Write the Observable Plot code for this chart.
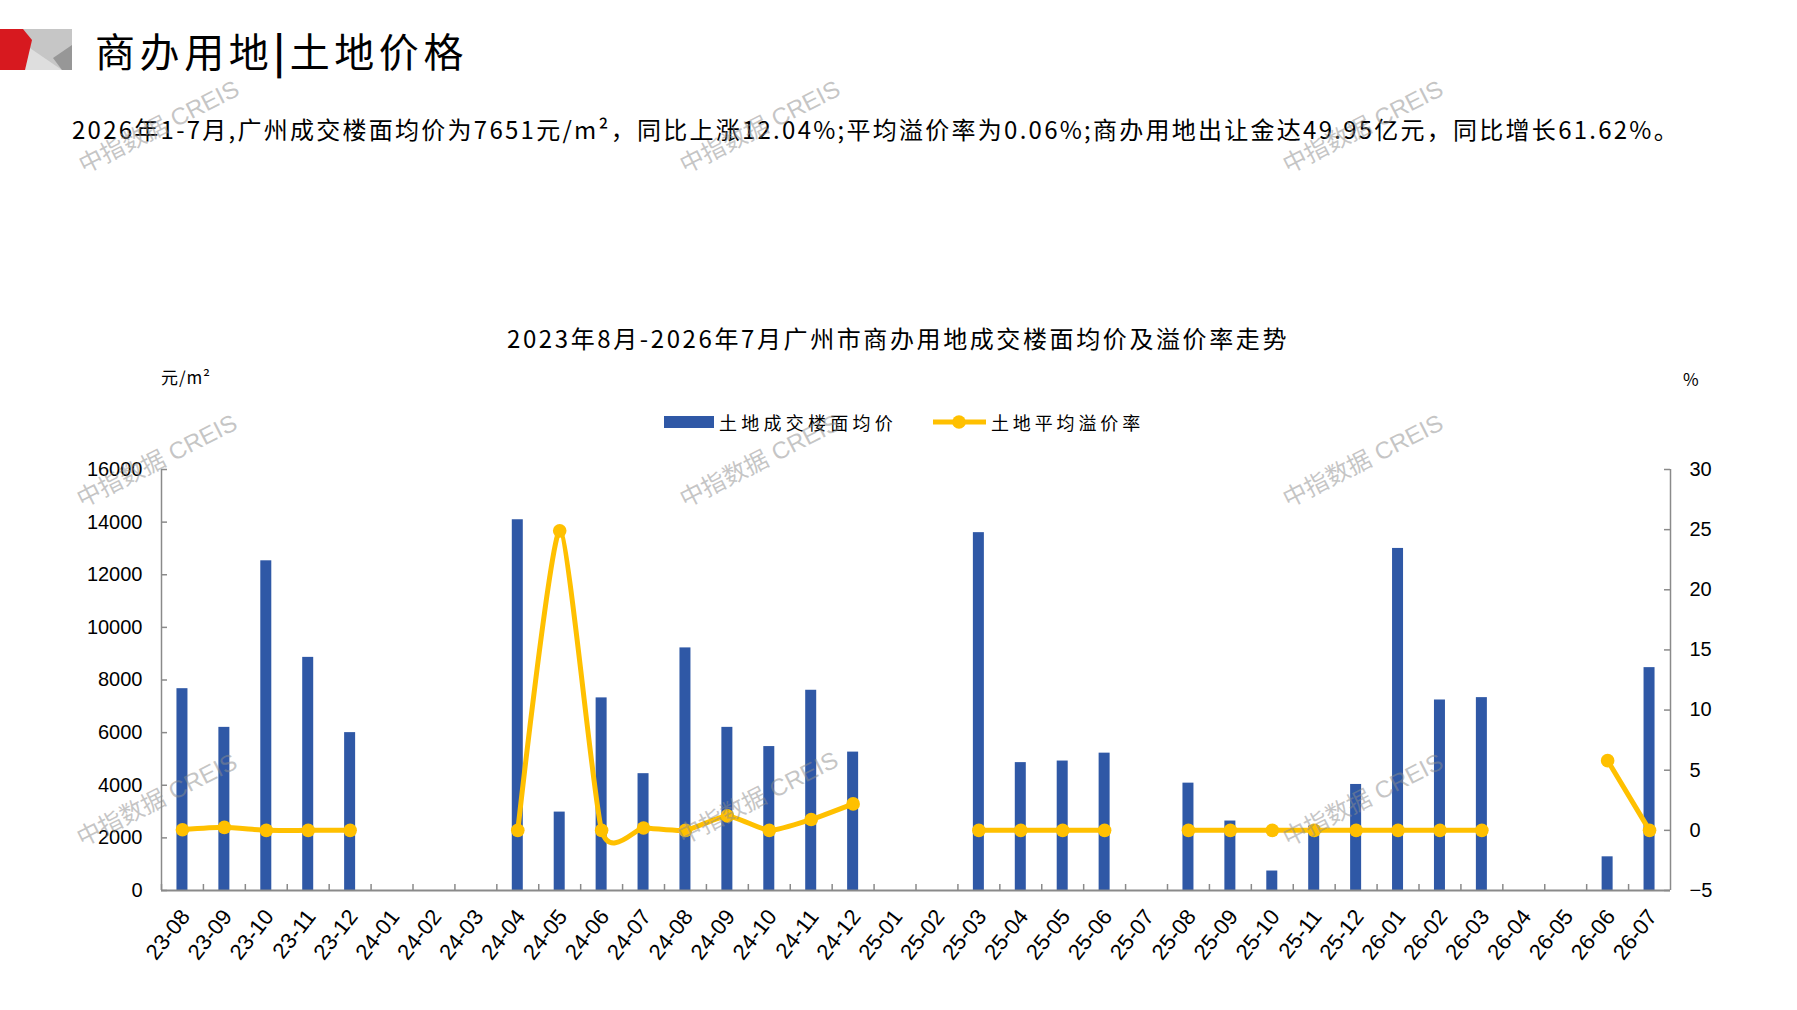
<!DOCTYPE html>
<html>
<head>
<meta charset="utf-8">
<script src="https://cdn.jsdelivr.net/npm/d3@7"></script>
<script src="https://cdn.jsdelivr.net/npm/@observablehq/plot@0.6"></script>
<style>
html,body{margin:0;padding:0;background:#fff;}
#page{position:relative;width:1797px;height:1010px;overflow:hidden;background:#fff;font-family:"Noto Sans CJK SC","Noto Sans",sans-serif;color:#000;}
.abs{position:absolute;white-space:nowrap;line-height:1;}
.wm{position:absolute;white-space:nowrap;line-height:1;font-family:"Liberation Sans","Noto Sans CJK SC",sans-serif;font-size:24px;color:rgba(140,140,140,0.5);transform:translate(-50%,-50%) rotate(-27deg);pointer-events:none;z-index:10;}
.plotbox{position:absolute;left:0;top:440px;}
</style>
</head>
<body>
<div id="page">
  <svg class="abs" style="left:0;top:0" width="80" height="80">
    <rect x="22" y="29" width="50" height="41" fill="#c6c6c6"/>
    <polygon points="24,44 62,70 24,70" fill="#dedede"/>
    <polygon points="53,58 72,45 72,70 62,70" fill="#979797"/>
    <polygon points="0,29 23,29 32,40 25,70 0,70" fill="#d7191f"/>
  </svg>
  <div id="title" class="abs fit" data-w="373" style="left:95px;top:30px;font-size:40px;">商办用地<span style="font-weight:700">|</span>土地价格</div>
  <div id="sub" class="abs fit" data-w="1608" style="left:72px;top:117px;font-size:24px;">2026年1-7月,广州成交楼面均价为7651元/m²，同比上涨12.04%;平均溢价率为0.06%;商办用地出让金达49.95亿元，同比增长61.62%。</div>
  <div id="ctitle" class="abs fit" data-w="782" style="left:507px;top:326px;font-size:24px;">2023年8月-2026年7月广州市商办用地成交楼面均价及溢价率走势</div>
  <div id="unitL" class="abs fit" data-w="50" style="left:161px;top:368px;font-size:17px;">元/m²</div>
  <div id="unitR" class="abs" style="left:1683px;top:370px;font-size:17px;">%</div>
  <div class="abs" style="left:664px;top:416px;width:50px;height:12px;background:#2F58A6;"></div>
  <div id="leg1" class="abs fit" data-w="178" style="left:719px;top:413px;font-size:18px;">土地成交楼面均价</div>
  <svg class="abs" style="left:930px;top:412px" width="60" height="20">
    <line x1="3" y1="10" x2="56" y2="10" stroke="#FFC000" stroke-width="5"/>
    <circle cx="29" cy="10" r="6.8" fill="#FFC000"/>
  </svg>
  <div id="leg2" class="abs fit" data-w="153" style="left:991px;top:413px;font-size:18px;">土地平均溢价率</div>
  <div id="p1" class="plotbox"></div>
  <div id="p2" class="plotbox"></div>
  <div class="wm" style="left:159px;top:127px;">中指数据 CREIS</div>
  <div class="wm" style="left:760px;top:127px;">中指数据 CREIS</div>
  <div class="wm" style="left:1363px;top:127px;">中指数据 CREIS</div>
  <div class="wm" style="left:157px;top:461px;">中指数据 CREIS</div>
  <div class="wm" style="left:760px;top:461px;">中指数据 CREIS</div>
  <div class="wm" style="left:1363px;top:461px;">中指数据 CREIS</div>
  <div class="wm" style="left:157px;top:800px;">中指数据 CREIS</div>
  <div class="wm" style="left:758px;top:798px;">中指数据 CREIS</div>
  <div class="wm" style="left:1363px;top:800px;">中指数据 CREIS</div>
</div>
<script>
// ---- data ----
const months = ["23-08","23-09","23-10","23-11","23-12","24-01","24-02","24-03","24-04","24-05","24-06","24-07","24-08","24-09","24-10","24-11","24-12","25-01","25-02","25-03","25-04","25-05","25-06","25-07","25-08","25-09","25-10","25-11","25-12","26-01","26-02","26-03","26-04","26-05","26-06","26-07"];
const price = [7670,6200,12530,8860,6000,null,null,null,14090,2980,7320,4440,9220,6200,5470,7610,5260,null,null,13600,4860,4920,5220,null,4080,2640,740,2450,4030,13000,7240,7330,null,null,1280,8470];
const rate = [0.05,0.25,0,0,0,null,null,null,0,24.9,0,0.2,0,1.2,0,0.9,2.2,null,null,0,0,0,0,null,0,0,0,0,0,0,0,0,null,null,5.8,0];
const leftTicks = [0,2000,4000,6000,8000,10000,12000,14000,16000];
const rightTicks = [-5,0,5,10,15,20,25,30];
const seriesNames = ["土地成交楼面均价","土地平均溢价率"];

const rows = months.map((m,i)=>({month:m, price:price[i], rate:rate[i]}));

// ---- layout ----
const W = 1797, H = 570, mL = 161, mR = 127, mT = 29, mB = 120;
const plotW = W - mL - mR, plotH = H - mT - mB;
const step = plotW / months.length;
const barW = 11;
const inset = (step - barW) / 2;
const axisColor = "#8a8a8a";
const blue = "#2F58A6", gold = "#FFC000";
const fmtR = d => d < 0 ? "\u2212" + Math.abs(d) : String(d);

const baseStyle = {fontFamily: "'Liberation Sans', Arial, sans-serif", color: "#000", background: "transparent", overflow: "visible"};

const p1 = Plot.plot({
  width: W, height: H, marginLeft: mL, marginRight: mR, marginTop: mT, marginBottom: mB,
  style: baseStyle,
  x: {type: "band", domain: months, padding: 0, axis: null, label: null},
  y: {domain: [0, 16000], axis: null, label: null},
  marks: [
    Plot.barY(rows.filter(d => d.price != null), {x: "month", y: "price", fill: blue, insetLeft: inset, insetRight: inset, title: d => seriesNames[0] + " " + d.month + ": " + d.price}),
    Plot.ruleX(months, {x: d => d, y1: 0, y2: 16000 * 6 / plotH, dx: -step / 2, stroke: axisColor, strokeWidth: 1.5}),
    Plot.ruleX([months[0]], {x: d => d, y1: 0, y2: 16000, dx: -step / 2, stroke: axisColor, strokeWidth: 1.5}),
    Plot.tickY(leftTicks, {y: d => d, stroke: axisColor, strokeWidth: 1.5, insetRight: plotW - 6}),
    Plot.ruleY([0], {stroke: axisColor, strokeWidth: 2}),
    Plot.axisY({ticks: leftTicks, tickSize: 0, tickPadding: 19, tickFormat: d => String(d), fontSize: 20, label: null}),
    Plot.axisX({tickSize: 0, tickRotate: -52, tickPadding: 22, dx: 3, fontSize: 22, label: null})
  ]
});

const p2 = Plot.plot({
  width: W, height: H, marginLeft: mL, marginRight: mR, marginTop: mT, marginBottom: mB,
  style: baseStyle,
  x: {type: "point", domain: months, padding: 0.5, axis: null, label: null},
  y: {domain: [-5, 30], axis: null, label: null},
  marks: [
    Plot.ruleX([months[months.length - 1]], {x: d => d, y1: -5, y2: 30, dx: step / 2, stroke: axisColor, strokeWidth: 1.5}),
    Plot.tickY(rightTicks, {y: d => d, stroke: axisColor, strokeWidth: 1.5, insetLeft: plotW - 6}),
    Plot.axisY({anchor: "right", ticks: rightTicks, tickSize: 0, tickPadding: 19, tickFormat: fmtR, fontSize: 20, label: null}),
    Plot.line(rows, {x: "month", y: "rate", stroke: gold, strokeWidth: 5, curve: "cardinal", tension: 0.4}),
    Plot.dot(rows.filter(d => d.rate != null), {x: "month", y: "rate", r: 6.8, fill: gold, title: d => seriesNames[1] + " " + d.month + ": " + d.rate})
  ]
});

document.getElementById("p1").appendChild(p1);
document.getElementById("p2").appendChild(p2);

function fitAll(){
  document.querySelectorAll(".fit").forEach(el => {
    el.style.letterSpacing = "0px";
    const w = el.getBoundingClientRect().width;
    const n = Array.from(el.textContent).length;
    const target = +el.dataset.w;
    el.style.letterSpacing = ((target - w) / n) + "px";
  });
}
fitAll();
if (document.fonts && document.fonts.ready) document.fonts.ready.then(fitAll);
</script>
</body>
</html>
